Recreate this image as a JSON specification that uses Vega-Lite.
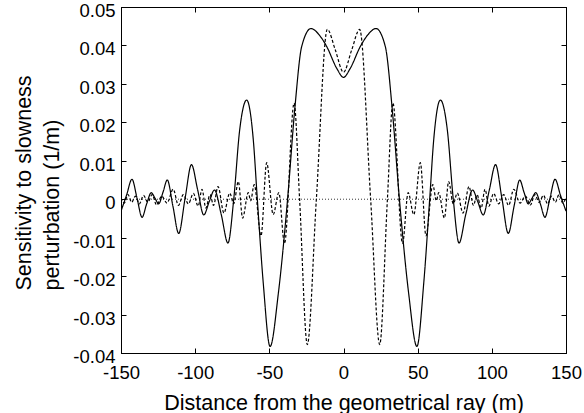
{
  "$schema": "https://vega.github.io/schema/vega-lite/v6.json",
  "width": 445,
  "height": 346,
  "autosize": {"type": "none"},
  "padding": {"left": 121, "top": 7, "right": 18, "bottom": 60},
  "background": "white",
  "datasets": {
    "curves": [
      {"x": -150, "v": -0.0031, "s": "solid"},
      {"x": -146.3, "v": 0.001, "s": "solid"},
      {"x": -142.6, "v": 0.0052, "s": "solid"},
      {"x": -139.2, "v": 0.0003, "s": "solid"},
      {"x": -135.8, "v": -0.0047, "s": "solid"},
      {"x": -132.7, "v": -0.0012, "s": "solid"},
      {"x": -129.6, "v": 0.0017, "s": "solid"},
      {"x": -127, "v": 0.0002, "s": "solid"},
      {"x": -124.6, "v": -0.0012, "s": "solid"},
      {"x": -121.7, "v": 0.0018, "s": "solid"},
      {"x": -118.8, "v": 0.005, "s": "solid"},
      {"x": -115, "v": -0.0018, "s": "solid"},
      {"x": -111.1, "v": -0.0089, "s": "solid"},
      {"x": -106.8, "v": 0.0002, "s": "solid"},
      {"x": -102.5, "v": 0.009, "s": "solid"},
      {"x": -98.3, "v": 0.0024, "s": "solid"},
      {"x": -94.2, "v": -0.0041, "s": "solid"},
      {"x": -90.5, "v": -0.0006, "s": "solid"},
      {"x": -87, "v": 0.0024, "s": "solid"},
      {"x": -82.4, "v": -0.004, "s": "solid"},
      {"x": -77.9, "v": -0.0114, "s": "solid"},
      {"x": -74, "v": 0, "s": "solid"},
      {"x": -70, "v": 0.018, "s": "solid"},
      {"x": -65.3, "v": 0.0258, "s": "solid"},
      {"x": -60.8, "v": 0.0154, "s": "solid"},
      {"x": -58.1, "v": 0, "s": "solid"},
      {"x": -54.1, "v": -0.0218, "s": "solid"},
      {"x": -49.5, "v": -0.0383, "s": "solid"},
      {"x": -43.9, "v": -0.0244, "s": "solid"},
      {"x": -37.7, "v": 0, "s": "solid"},
      {"x": -32.7, "v": 0.0241, "s": "solid"},
      {"x": -28.2, "v": 0.0397, "s": "solid"},
      {"x": -21.9, "v": 0.0444, "s": "solid"},
      {"x": -16.5, "v": 0.0428, "s": "solid"},
      {"x": -11.3, "v": 0.0397, "s": "solid"},
      {"x": -4.5, "v": 0.034, "s": "solid"},
      {"x": 0, "v": 0.0317, "s": "solid"},
      {"x": 4.5, "v": 0.034, "s": "solid"},
      {"x": 11.3, "v": 0.0397, "s": "solid"},
      {"x": 16.5, "v": 0.0428, "s": "solid"},
      {"x": 21.9, "v": 0.0444, "s": "solid"},
      {"x": 28.2, "v": 0.0397, "s": "solid"},
      {"x": 32.7, "v": 0.0241, "s": "solid"},
      {"x": 37.7, "v": 0, "s": "solid"},
      {"x": 43.9, "v": -0.0244, "s": "solid"},
      {"x": 49.5, "v": -0.0383, "s": "solid"},
      {"x": 54.1, "v": -0.0218, "s": "solid"},
      {"x": 58.1, "v": 0, "s": "solid"},
      {"x": 60.8, "v": 0.0154, "s": "solid"},
      {"x": 65.3, "v": 0.0258, "s": "solid"},
      {"x": 70, "v": 0.018, "s": "solid"},
      {"x": 74, "v": 0, "s": "solid"},
      {"x": 77.9, "v": -0.0114, "s": "solid"},
      {"x": 82.4, "v": -0.004, "s": "solid"},
      {"x": 87, "v": 0.0024, "s": "solid"},
      {"x": 90.5, "v": -0.0006, "s": "solid"},
      {"x": 94.2, "v": -0.0041, "s": "solid"},
      {"x": 98.3, "v": 0.0024, "s": "solid"},
      {"x": 102.5, "v": 0.009, "s": "solid"},
      {"x": 106.8, "v": 0.0002, "s": "solid"},
      {"x": 111.1, "v": -0.0089, "s": "solid"},
      {"x": 115, "v": -0.0018, "s": "solid"},
      {"x": 118.8, "v": 0.005, "s": "solid"},
      {"x": 121.7, "v": 0.0018, "s": "solid"},
      {"x": 124.6, "v": -0.0012, "s": "solid"},
      {"x": 127, "v": 0.0002, "s": "solid"},
      {"x": 129.6, "v": 0.0017, "s": "solid"},
      {"x": 132.7, "v": -0.0012, "s": "solid"},
      {"x": 135.8, "v": -0.0047, "s": "solid"},
      {"x": 139.2, "v": 0.0003, "s": "solid"},
      {"x": 142.6, "v": 0.0052, "s": "solid"},
      {"x": 146.3, "v": 0.001, "s": "solid"},
      {"x": 150, "v": -0.0031, "s": "solid"},

      {"x": -150, "v": 0.0004, "s": "dashed"},
      {"x": -147.8, "v": -0.001, "s": "dashed"},
      {"x": -145.3, "v": 0.0012, "s": "dashed"},
      {"x": -142.8, "v": -0.0008, "s": "dashed"},
      {"x": -140.3, "v": 0.0008, "s": "dashed"},
      {"x": -137.6, "v": -0.0012, "s": "dashed"},
      {"x": -134.8, "v": 0.001, "s": "dashed"},
      {"x": -131.9, "v": -0.0008, "s": "dashed"},
      {"x": -129, "v": 0.0012, "s": "dashed"},
      {"x": -126, "v": -0.0015, "s": "dashed"},
      {"x": -122.6, "v": 0.0008, "s": "dashed"},
      {"x": -119, "v": -0.001, "s": "dashed"},
      {"x": -114.8, "v": 0.0026, "s": "dashed"},
      {"x": -111.3, "v": -0.0016, "s": "dashed"},
      {"x": -108, "v": 0.0012, "s": "dashed"},
      {"x": -104.6, "v": -0.0012, "s": "dashed"},
      {"x": -101.2, "v": 0.0015, "s": "dashed"},
      {"x": -98, "v": -0.0018, "s": "dashed"},
      {"x": -95.4, "v": 0.0026, "s": "dashed"},
      {"x": -92.8, "v": -0.0023, "s": "dashed"},
      {"x": -90, "v": 0.0012, "s": "dashed"},
      {"x": -87.6, "v": -0.0016, "s": "dashed"},
      {"x": -84.6, "v": 0.0033, "s": "dashed"},
      {"x": -80.6, "v": -0.0036, "s": "dashed"},
      {"x": -76.7, "v": 0.0016, "s": "dashed"},
      {"x": -74, "v": -0.0012, "s": "dashed"},
      {"x": -70.9, "v": 0.0046, "s": "dashed"},
      {"x": -68, "v": -0.0049, "s": "dashed"},
      {"x": -64.2, "v": 0.0017, "s": "dashed"},
      {"x": -62.6, "v": -0.0004, "s": "dashed"},
      {"x": -60.2, "v": 0.0038, "s": "dashed"},
      {"x": -55.6, "v": -0.0095, "s": "dashed"},
      {"x": -51.8, "v": 0.0095, "s": "dashed"},
      {"x": -47.4, "v": -0.004, "s": "dashed"},
      {"x": -43.6, "v": 0.0017, "s": "dashed"},
      {"x": -39.8, "v": -0.0115, "s": "dashed"},
      {"x": -33.3, "v": 0.025, "s": "dashed"},
      {"x": -29.6, "v": 0, "s": "dashed"},
      {"x": -24.4, "v": -0.0378, "s": "dashed"},
      {"x": -18.3, "v": 0, "s": "dashed"},
      {"x": -10.9, "v": 0.0442, "s": "dashed"},
      {"x": -5.5, "v": 0.0388, "s": "dashed"},
      {"x": 0, "v": 0.033, "s": "dashed"},
      {"x": 5.5, "v": 0.0388, "s": "dashed"},
      {"x": 10.9, "v": 0.0442, "s": "dashed"},
      {"x": 18.3, "v": 0, "s": "dashed"},
      {"x": 24.4, "v": -0.0378, "s": "dashed"},
      {"x": 29.6, "v": 0, "s": "dashed"},
      {"x": 33.3, "v": 0.025, "s": "dashed"},
      {"x": 39.8, "v": -0.0115, "s": "dashed"},
      {"x": 43.6, "v": 0.0017, "s": "dashed"},
      {"x": 47.4, "v": -0.004, "s": "dashed"},
      {"x": 51.8, "v": 0.0095, "s": "dashed"},
      {"x": 55.6, "v": -0.0095, "s": "dashed"},
      {"x": 60.2, "v": 0.0038, "s": "dashed"},
      {"x": 62.6, "v": -0.0004, "s": "dashed"},
      {"x": 64.2, "v": 0.0017, "s": "dashed"},
      {"x": 68, "v": -0.0049, "s": "dashed"},
      {"x": 70.9, "v": 0.0046, "s": "dashed"},
      {"x": 74, "v": -0.0012, "s": "dashed"},
      {"x": 76.7, "v": 0.0016, "s": "dashed"},
      {"x": 80.6, "v": -0.0036, "s": "dashed"},
      {"x": 84.6, "v": 0.0033, "s": "dashed"},
      {"x": 87.6, "v": -0.0016, "s": "dashed"},
      {"x": 90, "v": 0.0012, "s": "dashed"},
      {"x": 92.8, "v": -0.0023, "s": "dashed"},
      {"x": 95.4, "v": 0.0026, "s": "dashed"},
      {"x": 98, "v": -0.0018, "s": "dashed"},
      {"x": 101.2, "v": 0.0015, "s": "dashed"},
      {"x": 104.6, "v": -0.0012, "s": "dashed"},
      {"x": 108, "v": 0.0012, "s": "dashed"},
      {"x": 111.3, "v": -0.0016, "s": "dashed"},
      {"x": 114.8, "v": 0.0026, "s": "dashed"},
      {"x": 119, "v": -0.001, "s": "dashed"},
      {"x": 122.6, "v": 0.0008, "s": "dashed"},
      {"x": 126, "v": -0.0015, "s": "dashed"},
      {"x": 129, "v": 0.0012, "s": "dashed"},
      {"x": 131.9, "v": -0.0008, "s": "dashed"},
      {"x": 134.8, "v": 0.001, "s": "dashed"},
      {"x": 137.6, "v": -0.0012, "s": "dashed"},
      {"x": 140.3, "v": 0.0008, "s": "dashed"},
      {"x": 142.8, "v": -0.0008, "s": "dashed"},
      {"x": 145.3, "v": 0.0012, "s": "dashed"},
      {"x": 147.8, "v": -0.001, "s": "dashed"},
      {"x": 150, "v": 0.0004, "s": "dashed"}
    ]
  },
  "data": {"name": "curves"},
  "layer": [
    {
      "transform": [{"filter": "datum.s == 'solid'"}],
      "mark": {"type": "line", "color": "black", "strokeWidth": 0.8, "strokeDash": [1, 2], "clip": true},
      "encoding": {
        "x": {
          "field": "x", "type": "quantitative",
          "scale": {"domain": [-150, 150], "nice": false, "zero": false},
          "axis": {"orient": "top", "labels": false, "title": null, "values": [-150, -100, -50, 0, 50, 100, 150]}
        },
        "y": {
          "datum": 0, "type": "quantitative",
          "scale": {"domain": [-0.04, 0.05], "nice": false, "zero": false},
          "axis": {"orient": "right", "labels": false, "title": null, "values": [-0.04, -0.03, -0.02, -0.01, 0, 0.01, 0.02, 0.03, 0.04, 0.05]}
        }
      }
    },
    {
      "mark": {"type": "line", "color": "black", "strokeWidth": 1.2, "interpolate": "monotone", "clip": true},
      "encoding": {
        "x": {
          "field": "x", "type": "quantitative",
          "axis": {
            "orient": "bottom",
            "title": "Distance from the geometrical ray (m)",
            "values": [-150, -100, -50, 0, 50, 100, 150],
            "format": "d",
            "labelExpr": "replace(datum.label, '\u2212', '-')",
            "labelPadding": 15,
            "titleY": 56,
            "titleBaseline": "alphabetic"
          }
        },
        "y": {
          "field": "v", "type": "quantitative",
          "axis": {
            "orient": "left",
            "title": ["Sensitivity to slowness", "perturbation (1/m)"],
            "values": [-0.04, -0.03, -0.02, -0.01, 0, 0.01, 0.02, 0.03, 0.04, 0.05],
            "format": ".2~f",
            "labelExpr": "replace(datum.label, '\u2212', '-')",
            "labelPadding": 11,
            "labelOffset": 3.5,
            "titleAngle": -90,
            "titleAlign": "left",
            "titleBaseline": "alphabetic",
            "titleX": -90.5,
            "titleY": 283,
            "titleLineHeight": 28
          }
        },
        "strokeDash": {
          "field": "s", "type": "nominal",
          "scale": {"domain": ["solid", "dashed"], "range": [[1, 0], [3, 2]]},
          "legend": null
        }
      }
    }
  ],
  "resolve": {"axis": {"x": "independent", "y": "independent"}},
  "config": {
    "view": {"stroke": "black", "strokeWidth": 1},
    "axis": {
      "grid": false,
      "domainColor": "black",
      "domainWidth": 1,
      "tickColor": "black",
      "tickWidth": 1,
      "tickSize": -5,
      "labelColor": "black",
      "titleColor": "black",
      "labelFont": "Liberation Sans",
      "titleFont": "Liberation Sans",
      "labelFontSize": 18.5,
      "titleFontSize": 21.5,
      "titleFontWeight": "normal",
      "labelFlush": false,
      "labelOverlap": false
    }
  }
}
